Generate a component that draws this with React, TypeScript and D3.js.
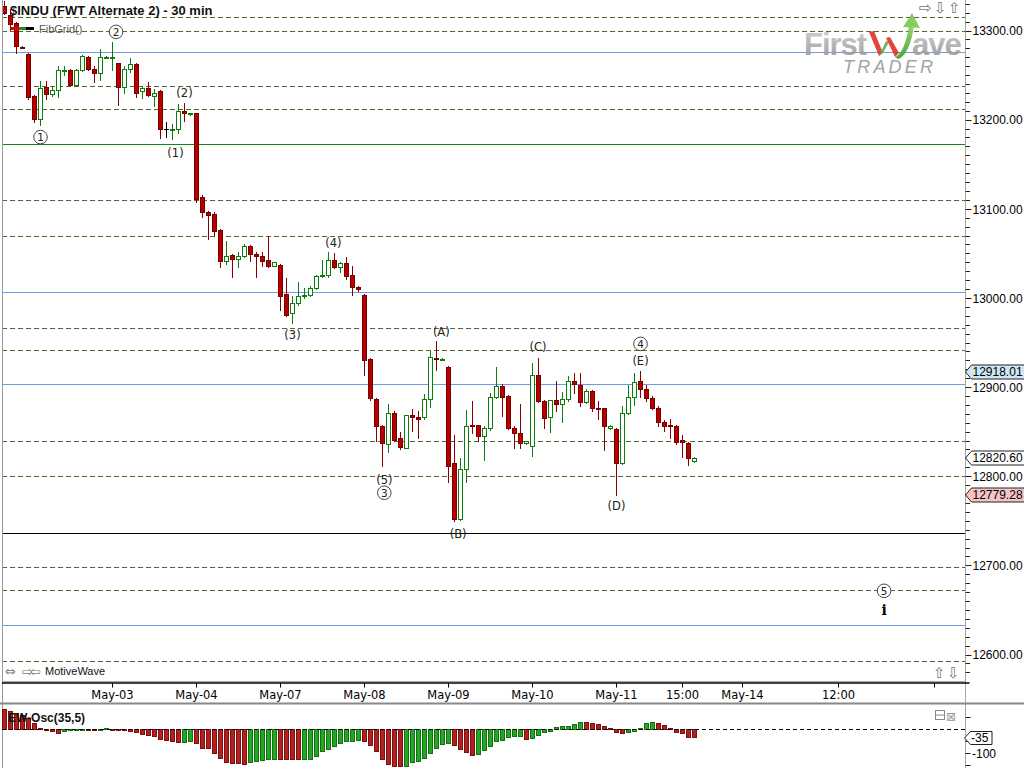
import React from "react";
import * as d3 from "d3";

// $INDU 30 min bars, May 01 - May 11 (14 bars per session)
const opens = [
  13327, 13317, 13308, 13282, 13274, 13226, 13201, 13237, 13229, 13233,
  13254.5, 13256, 13239, 13256, 13270, 13257, 13252, 13269.5, 13269, 13263,
  13237, 13257, 13262, 13232, 13235, 13227, 13232, 13190, 13189, 13190,
  13210, 13206, 13207, 13113, 13096, 13094, 13076, 13041, 13048, 13044,
  13047, 13058, 13049, 13047, 13042, 13036, 13037, 13004, 12983, 12994,
  13002, 13003, 13011, 13025, 13026, 13043, 13035, 13039, 13026, 13012,
  13003, 12932, 12887, 12856, 12836, 12871, 12843, 12832, 12869, 12866,
  12866, 12887, 12933, 12931, 12923, 12815, 12752, 12808, 12858, 12857,
  12845, 12854, 12889, 12901, 12890, 12854, 12849, 12837, 12834, 12914,
  12884, 12866, 12886, 12881, 12887, 12907, 12902, 12883, 12896, 12877,
  12876, 12854, 12853, 12815, 12871, 12889, 12907, 12898, 12888, 12877,
  12861, 12857, 12856, 12841, 12837, 12817,
];
const highs = [
  13333, 13324, 13310, 13283, 13275, 13228, 13243, 13243, 13238, 13260,
  13260, 13257, 13257, 13272, 13271, 13260, 13279, 13271, 13287, 13264,
  13260, 13269, 13264, 13238, 13242, 13234, 13233, 13197, 13195, 13218,
  13219, 13207.5, 13208, 13115, 13098, 13096, 13077, 13064, 13049, 13051,
  13060, 13059, 13051, 13052, 13069, 13040.5, 13038, 13022, 13002, 13018,
  13011, 13013, 13026, 13043, 13051, 13050, 13040, 13046, 13036, 13013,
  13004, 12933, 12888, 12857, 12881, 12873, 12850, 12869, 12875, 12873,
  12892, 12941, 12952, 12932.5, 12924, 12846, 12820, 12874, 12884, 12858,
  12856, 12893, 12923, 12903, 12891, 12856, 12881, 12840, 12927, 12933,
  12886, 12886, 12907, 12894, 12912, 12916, 12916, 12898, 12897, 12884,
  12877, 12857, 12854, 12879, 12902, 12916, 12918.01, 12902, 12890, 12879,
  12863, 12864, 12857, 12846, 12838, 12821,
];
const lows = [
  13318, 13301, 13275, 13280, 13223, 13197, 13194, 13223, 13227, 13225,
  13250, 13238, 13238, 13255, 13256, 13242, 13245, 13269, 13256, 13216,
  13230, 13253, 13225, 13224, 13227, 13215, 13179, 13181, 13178, 13185,
  13199, 13205.5, 13108, 13091, 13066, 13070, 13035, 13038, 13023, 13035,
  13046, 13041, 13024, 13036, 13035, 13035.5, 12986, 12980, 12972, 12992,
  13000, 13002, 13010, 13023, 13024, 13034, 13029, 13021, 13003, 13008,
  12914, 12886, 12839, 12811, 12827, 12839, 12831, 12832, 12851, 12843,
  12864, 12878, 12919, 12930.5, 12793, 12750, 12751, 12793, 12848, 12839,
  12818, 12852, 12888, 12867, 12853, 12832, 12832, 12836, 12823, 12883,
  12854, 12850, 12873, 12861, 12884, 12893, 12879, 12882, 12873, 12864,
  12829, 12853, 12779.28, 12814, 12870, 12880, 12889, 12884, 12875, 12856,
  12851, 12843, 12836, 12821, 12813, 12816.5,
];
const closes = [
  13320, 13307, 13283, 13281, 13225, 13201, 13236, 13229, 13233, 13256,
  13255.5, 13239, 13256, 13271, 13257, 13252, 13270, 13270.5, 13270, 13237,
  13257, 13262, 13230, 13235, 13228, 13230, 13189, 13190, 13190, 13210,
  13208, 13207, 13111, 13096, 13093, 13075, 13041, 13047, 13044, 13047,
  13058, 13049, 13047, 13041, 13036, 13040, 13002, 12981, 12994, 13002,
  13003, 13011, 13025, 13026, 13042, 13035, 13039, 13025, 13012, 13010,
  12930, 12888, 12856, 12837, 12871, 12841, 12833, 12869, 12866, 12864,
  12887, 12934, 12931, 12932, 12812, 12752, 12808, 12856, 12856, 12845,
  12854, 12889, 12901, 12889, 12854, 12849, 12837, 12839, 12914, 12884,
  12865, 12886, 12881, 12887, 12907, 12903, 12883, 12896, 12877, 12876,
  12856, 12856, 12815, 12871, 12889, 12906, 12898, 12888, 12877, 12861,
  12856, 12856, 12838, 12838, 12820, 12820.6,
];

// EW-Osc(35,5)
const oscValues = [
  83, 76, 67, 57, 44, 25, 6, 2, -8, -17,
  -7, -3, -1, 2, 1.5, 1, 2, 2.5, 2, 0,
  -3, -7, -12, -21, -25, -29, -40, -47, -51, -56,
  -53, -52, -60, -79, -81, -100, -121, -138, -142, -143,
  -146, -139, -135, -128, -124, -123, -124, -124.5, -125, -125.5,
  -125, -124, -111, -93, -82, -69, -58, -50, -49, -47,
  -51, -68, -90, -124, -144, -153, -156, -153, -138, -135,
  -121, -100, -79, -64, -58, -68, -82, -97, -108, -104,
  -86, -72, -51, -44, -33, -31, -30, -40, -38, -26,
  -14, -10, 7, 12, 14, 22, 31, 28, 26, 22,
  14, 6, -12, -17, -12, -10, 6, 24, 31, 26,
  18, 6, -12, -17, -33, -35,
];

// FibGrid levels
const dashedLevels = [
  13315.7, 13300, 13237.2, 13212.5, 13109.3, 13070, 12966.8, 12942.1,
  12840, 12800.8, 12697.6, 12672.9, 12593.2,
];
const blueLevels = [13276.4, 13006.1, 12902.9, 12632.6];
const greenLevel = 13173.2;
const blackLevel = 12736.8;

const priceTicks = [13300, 13200, 13100, 13000, 12900, 12800, 12700, 12600];
const tickBars = [18, 32, 46, 60, 74, 88, 102, 113, 123, 139, 155];
const tickLabels = ["May-03", "May-04", "May-07", "May-08", "May-09", "May-10", "May-11", "15:00", "May-14", "12:00", ""];

const tagPrices = [12918.01, 12820.6, 12779.28];
const oscLast = -35;

const waveLabels = [
  { text: "1", bar: 6, price: 13181, kind: "circle" },
  { text: "2", bar: 18.6, price: 13299, kind: "circle" },
  { text: "(1)", bar: 28.5, price: 13163, kind: "paren" },
  { text: "(2)", bar: 30, price: 13231, kind: "paren" },
  { text: "(3)", bar: 48, price: 12959, kind: "paren" },
  { text: "(4)", bar: 54.8, price: 13062, kind: "paren" },
  { text: "(5)", bar: 63.3, price: 12797, kind: "paren" },
  { text: "3", bar: 63.3, price: 12782, kind: "circle" },
  { text: "(A)", bar: 72.8, price: 12963, kind: "paren" },
  { text: "(B)", bar: 75.6, price: 12736, kind: "paren" },
  { text: "(C)", bar: 88.9, price: 12946, kind: "paren" },
  { text: "(D)", bar: 102, price: 12767, kind: "paren" },
  { text: "(E)", bar: 106, price: 12930, kind: "paren" },
  { text: "4", bar: 106, price: 12949, kind: "circle" },
  { text: "5", bar: 146.6, price: 12672, kind: "circle" },
  { text: "i", bar: 146.6, price: 12650.5, kind: "minor" },
];

const x = d3.scaleLinear().domain([0, 1]).range([4.5, 10.5]);
const y = d3.scaleLinear().domain([12600, 13300]).range([655, 31]);
const yo = d3.scaleLinear().domain([0, -100]).range([729.5, 753.5]);
const snap = (v: number) => Math.round(v - 0.5) + 0.5;

const AX = 965.5; // price axis line
const FONT = "DejaVu Sans, sans-serif";
const ARIAL = "Liberation Sans, Arial, sans-serif";

const Tag = ({ yc, label, fill }: { yc: number; label: string; fill: string }) => (
  <g>
    <path
      d={`M${AX},${yc} L${AX + 6},${yc - 7} L1030,${yc - 7} L1030,${yc + 7} L${AX + 6},${yc + 7} Z`}
      fill={fill}
      stroke="#222"
      strokeWidth={1}
    />
    <text x={972.5} y={yc} dy="0.36em" fontFamily={ARIAL} fontSize={12} fill="#000">
      {label}
    </text>
  </g>
);

export default function App() {
  const minorTicks = d3.range(12560, 13340, 10);
  const tagFills = ["#cfe7f5", "#ffffff", "#f6c4c4"];

  return (
    <div style={{ width: 1024, height: 768, overflow: "hidden" }}>
      <style>{`body{margin:0;background:#fff}`}</style>
      <svg width={1024} height={768} style={{ display: "block", background: "#fff" }}>
        <defs>
          <clipPath id="plot">
            <rect x={2} y={0} width={AX - 2} height={681} />
          </clipPath>
          <clipPath id="osc">
            <rect x={2} y={705} width={AX - 2} height={63} />
          </clipPath>
          <linearGradient id="logoGray" x1="0" y1="0" x2="0" y2="1">
            <stop offset="0" stopColor="#cfcfcf" />
            <stop offset="1" stopColor="#8e8e8e" />
          </linearGradient>
          <linearGradient id="logoGreen" x1="0" y1="1" x2="0" y2="0">
            <stop offset="0" stopColor="#3d9a2e" />
            <stop offset="1" stopColor="#8fd45c" />
          </linearGradient>
        </defs>

        {/* price panel */}
        <g clipPath="url(#plot)">
          {dashedLevels.map((p, i) => (
            <line key={"d" + i} x1={2} x2={AX} y1={snap(y(p))} y2={snap(y(p))} stroke="#56672e" strokeDasharray="5,3" />
          ))}
          {blueLevels.map((p, i) => (
            <line key={"b" + i} x1={2} x2={AX} y1={snap(y(p))} y2={snap(y(p))} stroke="#6f9be6" />
          ))}
          <line x1={2} x2={AX} y1={snap(y(greenLevel))} y2={snap(y(greenLevel))} stroke="#118811" />
          <line x1={2} x2={AX} y1={snap(y(blackLevel))} y2={snap(y(blackLevel))} stroke="#000" />

          {/* logo */}
          <g opacity={0.9}>
            <text x={804} y={55} fontFamily={ARIAL} fontWeight="bold" fontSize={31} letterSpacing={-1} fill="url(#logoGray)">
              First
            </text>
            <text x={912} y={55} fontFamily={ARIAL} fontWeight="bold" fontSize={31} letterSpacing={-1} fill="url(#logoGray)">
              ave
            </text>
            <path d="M869,32 L874,31 L883,53 L879,56 Z" fill="#e0332b" />
            <path d="M879,56 L883,53 L889,42 L886,41 Z" fill="#5cb040" />
            <path d="M886,38 L890,37 L899,53 L895,57 Z" fill="#e0332b" />
            <path d="M895,57 C902,55 907,40 909,25 L914,25 C912,42 906,57 898,59 Z" fill="url(#logoGreen)" />
            <path d="M903,27 L912,13 L920,28 Z" fill="#7cc64e" />
            <text x={843} y={73} fontFamily={ARIAL} fontStyle="italic" fontSize={18} letterSpacing={3.2} fill="#999">
              TRADER
            </text>
          </g>

          {/* candles */}
          {opens.map((o, i) => {
            const c = closes[i];
            const cx = x(i);
            const up = c > o;
            const flat = c === o;
            const wick = flat ? "#000" : up ? "#0a800a" : "#8a0000";
            const top = snap(y(Math.max(o, c)));
            const bot = snap(y(Math.min(o, c)));
            return (
              <g key={"c" + i}>
                <line x1={cx} x2={cx} y1={snap(y(highs[i])) - 0.5} y2={snap(y(lows[i])) + 0.5} stroke={wick} />
                {flat ? (
                  <line x1={cx - 2.5} x2={cx + 2.5} y1={top} y2={top} stroke="#000" />
                ) : (
                  <rect
                    x={cx - 2}
                    y={top}
                    width={4}
                    height={Math.max(bot - top, 1)}
                    fill={up ? "#fff" : "#b50000"}
                    stroke={up ? "#0a800a" : "#7a0000"}
                  />
                )}
              </g>
            );
          })}

          {/* wave labels */}
          {waveLabels.map((w, i) => {
            const lx = x(w.bar);
            const ly = y(w.price);
            if (w.kind === "circle")
              return (
                <g key={"w" + i}>
                  <circle cx={lx} cy={ly} r={6.8} fill="#fff" stroke="#444" />
                  <text x={lx} y={ly} dy="0.36em" textAnchor="middle" fontFamily={FONT} fontSize={10.5} fill="#222">
                    {w.text}
                  </text>
                </g>
              );
            if (w.kind === "minor")
              return (
                <text key={"w" + i} x={lx} y={ly} dy="0.36em" textAnchor="middle" fontFamily="DejaVu Serif, serif" fontWeight="bold" fontSize={14} fill="#000">
                  {w.text}
                </text>
              );
            return (
              <text key={"w" + i} x={lx} y={ly} dy="0.36em" textAnchor="middle" fontFamily={FONT} fontSize={11.5} fill="#222">
                {w.text}
              </text>
            );
          })}
        </g>

        {/* title and legend */}
        <text x={10} y={14.5} fontFamily={ARIAL} fontWeight="bold" fontSize={13} fill="#111">
          $INDU (FWT Alternate 2) - 30 min
        </text>
        <line x1={11} x2={19} y1={28.5} y2={28.5} stroke="#e00000" strokeWidth={3} />
        <line x1={19} x2={26} y1={28.5} y2={28.5} stroke="#1f8a1f" strokeWidth={3} />
        <line x1={26} x2={34} y1={28.5} y2={28.5} stroke="#000" strokeWidth={3} />
        <text x={39} y={33} fontFamily={ARIAL} fontSize={11} fill="#555">
          FibGrid()
        </text>

        {/* corner icons */}
        <text x={919} y={13} fontFamily={FONT} fontSize={15} fill="#777">
          {"\u21E8"}
        </text>
        <text x={934} y={13} fontFamily={FONT} fontSize={15} fill="#777">
          {"\u21E9"}
        </text>
        <text x={948} y={13} fontFamily={FONT} fontSize={15} fill="#777">
          {"\u21E7"}
        </text>
        <text x={5} y={676} fontFamily={FONT} fontSize={13} fill="#777">
          {"\u21D4"}
        </text>
        <text x={22} y={676} fontFamily={FONT} fontSize={13} fill="#777" letterSpacing={-3}>
          {"\u21E8\u21E6"}
        </text>
        <text x={45} y={675} fontFamily={ARIAL} fontSize={11} fill="#111">
          MotiveWave
        </text>
        <text x={933} y={678} fontFamily={FONT} fontSize={15} fill="#777">
          {"\u21E7"}
        </text>
        <text x={947} y={678} fontFamily={FONT} fontSize={15} fill="#777">
          {"\u21E9"}
        </text>

        {/* frame and price axis */}
        <line x1={2.5} x2={2.5} y1={0} y2={768} stroke="#999" />
        <line x1={2} x2={AX} y1={681.5} y2={681.5} stroke="#a8a8a0" />
        <line x1={AX} x2={AX} y1={0} y2={768} stroke="#a8a890" />
        {minorTicks.map((p) => {
          const ty = snap(y(p));
          if (ty < 0 || ty > 681) return null;
          const major = p % 100 === 0;
          return <line key={"t" + p} x1={AX} x2={AX + (major ? 6 : 4.5)} y1={ty} y2={ty} stroke="#222" />;
        })}
        {priceTicks.map((p) => (
          <text key={"pl" + p} x={972.5} y={y(p)} dy="0.36em" fontFamily={ARIAL} fontSize={12} fill="#000">
            {d3.format(".2f")(p)}
          </text>
        ))}
        {tagPrices.map((p, i) => (
          <Tag key={"tag" + i} yc={Math.round(y(p))} label={d3.format(".2f")(p)} fill={tagFills[i]} />
        ))}

        {/* time axis */}
        <line x1={2} x2={AX + 4} y1={683} y2={683} stroke="#000" strokeWidth={1.5} />
        {tickBars.map((b, i) => (
          <g key={"x" + i}>
            <line x1={x(b)} x2={x(b)} y1={683} y2={687.5} stroke="#000" />
            <text x={x(b)} y={699} textAnchor="middle" fontFamily={FONT} fontSize={11.5} fill="#000">
              {tickLabels[i]}
            </text>
          </g>
        ))}
        <rect x={0} y={702.5} width={1024} height={2} fill="#888" />

        {/* oscillator panel */}
        <g clipPath="url(#osc)">
          {oscValues.map((v, i) => {
            const up = i > 0 && v >= oscValues[i - 1];
            const y0 = yo(0);
            const y1 = yo(v);
            const top = snap(Math.min(y0, y1));
            const h = Math.max(Math.round(Math.abs(y1 - y0)), 1);
            return (
              <rect
                key={"o" + i}
                x={x(i) - 2}
                y={top}
                width={4}
                height={h}
                fill={up ? "#22a822" : "#b22020"}
                stroke={up ? "#157015" : "#7a1010"}
              />
            );
          })}
          <line x1={2} x2={AX} y1={snap(yo(0))} y2={snap(yo(0))} stroke="#000" strokeDasharray="4,3" />
        </g>
        <text x={8} y={722} fontFamily={ARIAL} fontWeight="bold" fontSize={12} fill="#111">
          EW-Osc(35,5)
        </text>
        <rect x={935.5} y={710.5} width={9} height={9} fill="none" stroke="#888" />
        <line x1={935.5} x2={944.5} y1={715} y2={715} stroke="#888" />
        <text x={946} y={721} fontFamily={FONT} fontSize={12} fill="#999">
          {"\u22A0"}
        </text>
        {[50, -50, -100, -150].map((v) => (
          <line key={"ot" + v} x1={AX} x2={AX + 5} y1={snap(yo(v))} y2={snap(yo(v))} stroke="#222" />
        ))}
        <text x={972} y={yo(-100)} dy="0.36em" fontFamily={ARIAL} fontSize={12} fill="#000">
          -100
        </text>
        <path
          d={`M${AX - 1},${Math.round(yo(oscLast))} L${AX + 5},${Math.round(yo(oscLast)) - 6.5} L992,${Math.round(yo(oscLast)) - 6.5} L992,${Math.round(yo(oscLast)) + 6.5} L${AX + 5},${Math.round(yo(oscLast)) + 6.5} Z`}
          fill="#fff"
          stroke="#222"
        />
        <text x={971} y={Math.round(yo(oscLast))} dy="0.36em" fontFamily={ARIAL} fontSize={12} fill="#000">
          {oscLast}
        </text>
      </svg>
    </div>
  );
}
